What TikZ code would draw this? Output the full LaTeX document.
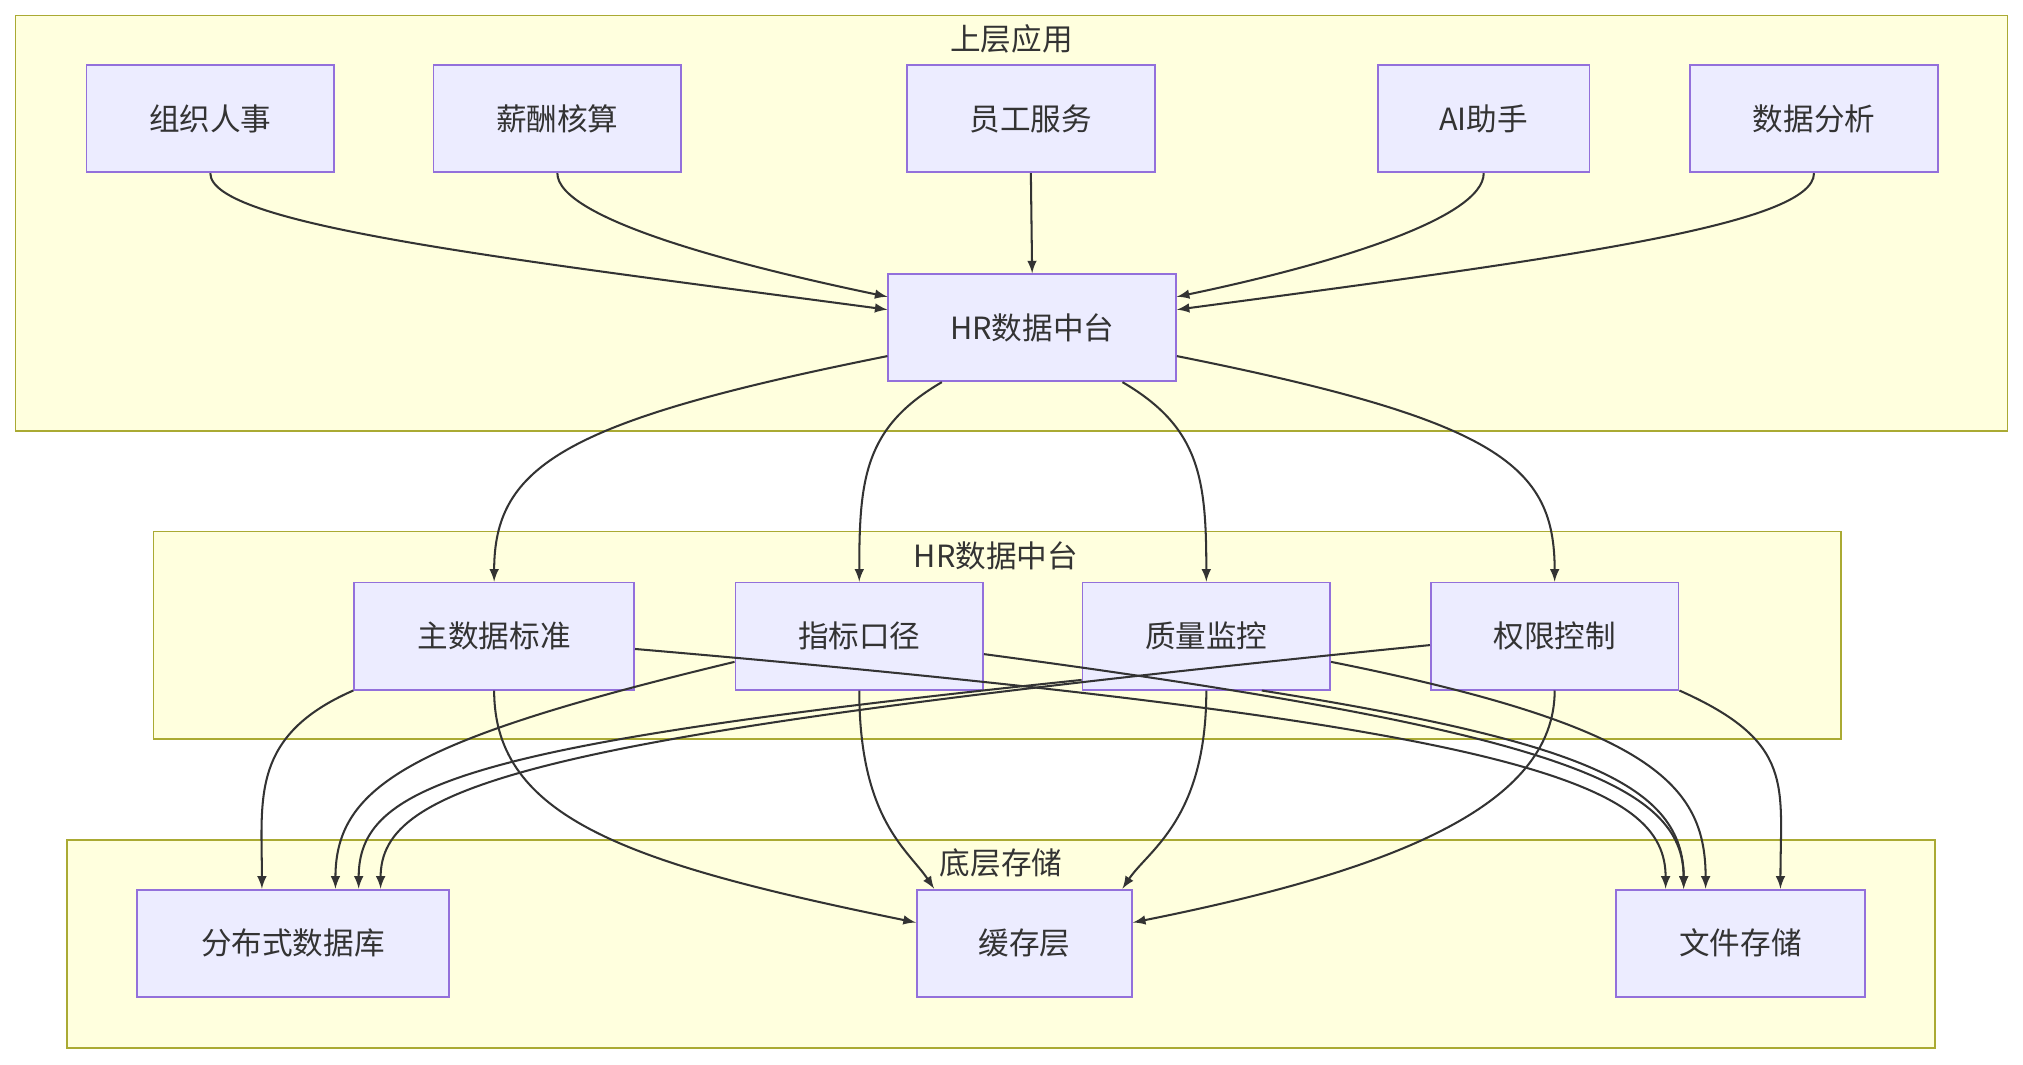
\documentclass[tikz,border=0pt]{standalone}
\usepackage{fontspec}
\setmainfont{Noto Sans CJK SC}
\usetikzlibrary{calc}
\definecolor{boxfill}{HTML}{ECECFF}
\definecolor{boxline}{HTML}{9370DB}
\definecolor{grpfill}{HTML}{FFFFDE}
\definecolor{grpline}{HTML}{AAAA33}
\definecolor{edge}{HTML}{333333}
\tikzset{
  box/.style={draw=boxline, fill=boxfill, line width=0.8pt, minimum height=1.66cm, font=\fontsize{13.5}{16}\selectfont, text=edge},
  grp/.style={draw=grpline, fill=grpfill, line width=0.8pt},
  grptitle/.style={font=\fontsize{13.5}{16}\selectfont, text=edge},
  link/.style={draw=edge, line width=0.9pt, -latex},
}
\begin{document}
\begin{tikzpicture}[x=0.02cm, y=-0.02cm]
    \useasboundingbox (0,0) rectangle (1568,825);
    % groups
    \draw[grp] (12,12) rectangle (1556,334);
    \node[grptitle] (topT) at (784,30) {上层应用};
    \draw[grp] (119,412) rectangle (1427,573);
    \node[grptitle] (midT) at (772,431) {HR数据中台};
    \draw[grp] (52,651) rectangle (1500,812);
    \node[grptitle] (botT) at (776,669) {底层存储};
    % top layer
    \node[box, minimum width=3.84cm] (org) at (163,92) {组织人事};
    \node[box, minimum width=3.84cm] (pay) at (432,92) {薪酬核算};
    \node[box, minimum width=3.84cm] (ess) at (799,92) {员工服务};
    \node[box, minimum width=3.28cm] (ai) at (1150,92) {AI助手};
    \node[box, minimum width=3.84cm] (bi) at (1406,92) {数据分析};
    \node[box, minimum width=4.46cm] (hub) at (800,254) {HR数据中台};
    % middle layer
    \node[box, minimum width=4.34cm] (mdm) at (383,493) {主数据标准};
    \node[box, minimum width=3.84cm] (kpi) at (666,493) {指标口径};
    \node[box, minimum width=3.84cm] (dq) at (935,493) {质量监控};
    \node[box, minimum width=3.84cm] (acl) at (1205,493) {权限控制};
    % bottom layer
    \node[box, minimum width=4.84cm] (db) at (227,731) {分布式数据库};
    \node[box, minimum width=3.34cm] (cache) at (794,731) {缓存层};
    \node[box, minimum width=3.86cm] (fs) at (1349,731) {文件存储};
    % apps to hub
    \draw[link] (org.south) .. controls +(0,40) and +(-300,-40) .. ($(hub.west)+(0,-14)$);
    \draw[link] (pay.south) .. controls +(0,35) and +(-120,-25) .. ($(hub.west)+(0,-24)$);
    \draw[link] (ess.south) -- (hub.north);
    \draw[link] (ai.south) .. controls +(0,35) and +(120,-25) .. ($(hub.east)+(0,-24)$);
    \draw[link] (bi.south) .. controls +(0,40) and +(300,-40) .. ($(hub.east)+(0,-14)$);
    % hub to middle
    \draw[link] ($(hub.west)+(0,22)$) .. controls +(-250,50) and +(0,-90) .. (mdm.north);
    \draw[link] ($(hub.south)+(-70,0)$) .. controls +(-60,35) and +(0,-80) .. (kpi.north);
    \draw[link] ($(hub.south)+(70,0)$) .. controls +(60,35) and +(0,-80) .. (dq.north);
    \draw[link] ($(hub.east)+(0,22)$) .. controls +(250,50) and +(0,-90) .. (acl.north);
    % middle to bottom
    \draw[link] (mdm.south west) .. controls +(-80,35) and +(0,-70) .. ($(db.north)+(-24,0)$);
    \draw[link] (mdm.south) .. controls +(0,100) and +(-220,-45) .. ($(cache.west)+(0,-16)$);
    \draw[link] ($(mdm.east)+(0,10)$) .. controls +(700,60) and +(0,-80) .. ($(fs.north)+(-58,0)$);
    \draw[link] ($(kpi.west)+(0,20)$) .. controls +(-250,60) and +(0,-80) .. ($(db.north)+(33,0)$);
    \draw[link] (kpi.south) .. controls +(0,100) and +(-20,-30) .. ($(cache.north)+(-70,0)$);
    \draw[link] ($(kpi.east)+(0,14)$) .. controls +(450,60) and +(0,-80) .. ($(fs.north)+(-44,0)$);
    \draw[link] ($(dq.west)+(0,34)$) .. controls +(-480,50) and +(0,-80) .. ($(db.north)+(51,0)$);
    \draw[link] (dq.south) .. controls +(0,100) and +(20,-30) .. ($(cache.north)+(76,0)$);
    \draw[link] ($(dq.south)+(43,0)$) .. controls +(250,40) and +(0,-80) .. ($(fs.north)+(-44,0)$);
    \draw[link] ($(dq.east)+(0,20)$) .. controls +(250,50) and +(0,-80) .. ($(fs.north)+(-27,0)$);
    \draw[link] ($(acl.west)+(0,7)$) .. controls +(-700,70) and +(0,-80) .. ($(db.north)+(68,0)$);
    \draw[link] (acl.south) .. controls +(0,90) and +(200,-40) .. ($(cache.east)+(0,-16)$);
    \draw[link] (acl.south east) .. controls +(90,40) and +(0,-80) .. ($(fs.north)+(31,0)$);
\end{tikzpicture}
\end{document}
